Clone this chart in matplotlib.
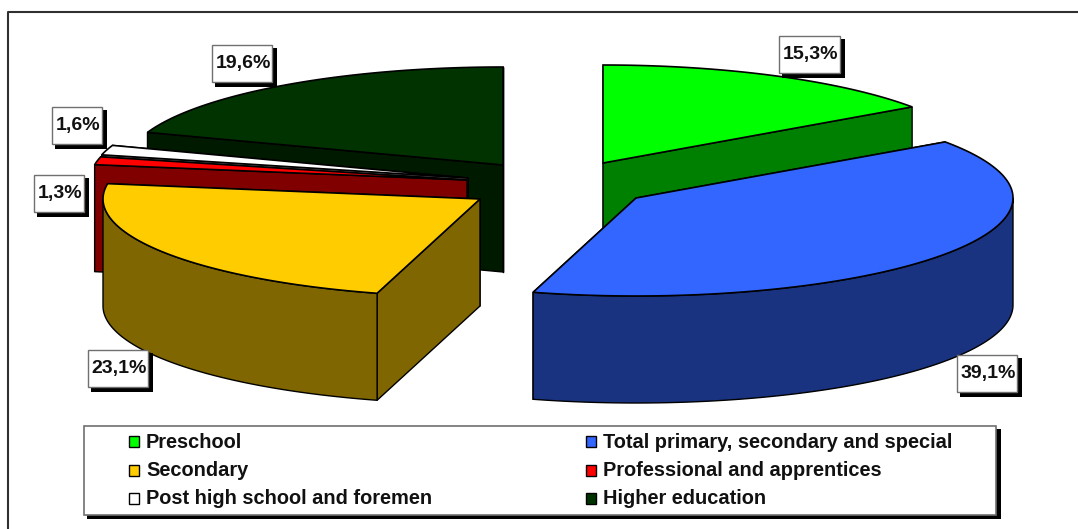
import matplotlib
matplotlib.use("Agg")
import matplotlib.pyplot as plt
from matplotlib.patches import Polygon, Rectangle
import numpy as np

plt.rcParams['font.family'] = ['Liberation Sans', 'DejaVu Sans']

names = ["Preschool", "Total primary, secondary and special", "Secondary",
         "Professional and apprentices", "Post high school and foremen", "Higher education"]
shares = [15.3, 39.1, 23.1, 1.3, 1.6, 19.6]
top_colors = ["#00FF00", "#3366FF", "#FFCC00", "#FF0000", "#FFFFFF", "#003300"]
side_colors = ["#008000", "#1A3380", "#806600", "#800000", "#808080", "#001A00"]

# pixel layout of the exploded pie
apex = [(603, 163), (636, 198), (480, 199), (467, 180), (468, 178), (503, 165)]
label_boxes = [(779, 36), (957, 355), (88, 350), (34, 175), (52, 107), (212, 45)]
label_w = [61, 60, 60, 50, 50, 60]
rx, ry, depth = 377, 98, 107
draw_order = [5, 4, 3, 2, 0, 1]

fig = plt.figure(figsize=(10.78, 5.29), dpi=100)
ax = fig.add_axes([0, 0, 1, 1])
ax.set_xlim(0, 1078)
ax.set_ylim(529, 0)
ax.axis("off")

# outer frame, only top and left fall inside the picture
ax.plot([8, 8, 1078], [529, 12, 12], color="#303030", lw=1.5)

edges = np.concatenate([[0], np.cumsum(shares)]) / sum(shares) * 2 * np.pi


def rim(i, a, b):
    t = np.linspace(a, b, max(int((b - a) * 60), 2))
    return apex[i][0] + rx * np.sin(t), apex[i][1] - ry * np.cos(t)


for i in draw_order:
    a, b = edges[i], edges[i + 1]
    cx, cy = apex[i]
    # radial walls, the one further back first
    for t in sorted((a, b), key=lambda v: -np.cos(v)):
        px, py = cx + rx * np.sin(t), cy - ry * np.cos(t)
        ax.add_patch(Polygon([(cx, cy), (px, py), (px, py + depth), (cx, cy + depth)],
                             fc=side_colors[i], ec="black", lw=1, joinstyle="round"))
    # front part of the outer wall
    fa, fb = max(a, np.pi / 2), min(b, 3 * np.pi / 2)
    if fb > fa:
        x, y = rim(i, fa, fb)
        pts = np.r_[np.c_[x, y], np.c_[x[::-1], y[::-1] + depth]]
        ax.add_patch(Polygon(pts, fc=side_colors[i], ec="black", lw=1))
    # top face
    x, y = rim(i, a, b)
    pts = np.r_[[(cx, cy)], np.c_[x, y]]
    ax.add_patch(Polygon(pts, fc=top_colors[i], ec="black", lw=1.2))

# value labels
for i, (bx, by) in enumerate(label_boxes):
    w, h = label_w[i], 37
    ax.add_patch(Rectangle((bx + 3, by + 3), w + 2, h + 2, fc="black", ec="black", lw=0, zorder=5))
    ax.add_patch(Rectangle((bx, by), w, h, fc="white", ec="#707070", lw=1, zorder=6))
    ax.text(bx + w / 2 + 1, by + h / 2, f"{shares[i]:.1f}%".replace(".", ","), ha="center", va="center",
            fontsize=14, fontweight="bold", color="#111111", zorder=7)

# legend
ax.add_patch(Rectangle((87, 429), 914, 90, fc="black", lw=0, zorder=5))
ax.add_patch(Rectangle((84, 426), 912, 89, fc="white", ec="#707070", lw=1.2, zorder=6))
col_x = [129, 586]
row_y = [441, 470, 498]
for i, name in enumerate(names):
    mx = col_x[i % 2]
    my = row_y[i // 2]
    ax.add_patch(Rectangle((mx, my - 5), 10, 11, fc=top_colors[i], ec="black", lw=1, zorder=7))
    ax.text(mx + 17, my + 1, name, ha="left", va="center", fontsize=14.4, fontweight="bold",
            color="#111111", zorder=7)

fig.savefig("out.png", dpi=100)
